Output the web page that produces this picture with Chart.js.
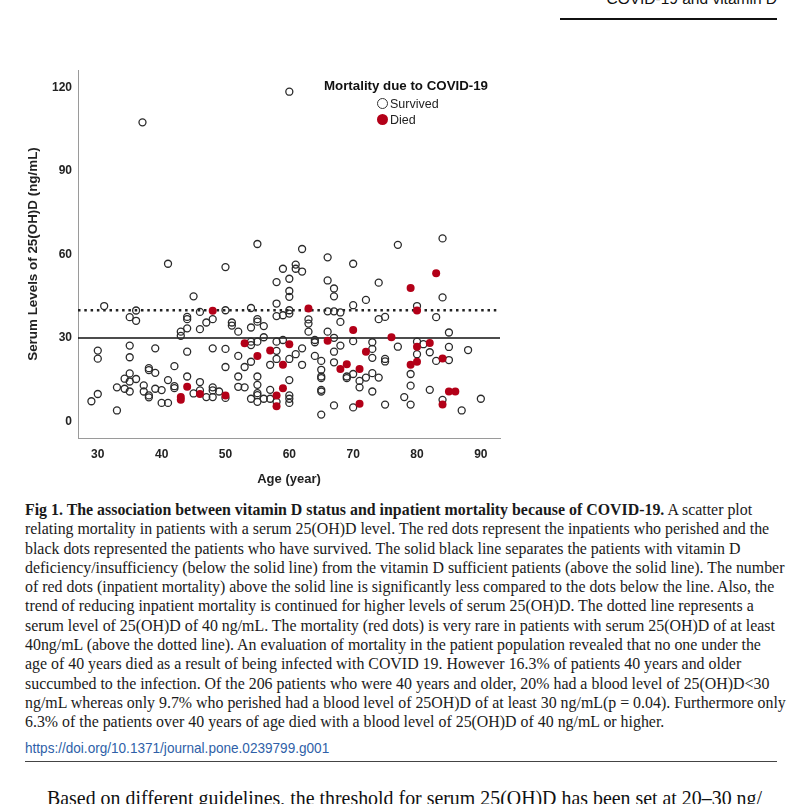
<!DOCTYPE html>
<html>
<head>
<meta charset="utf-8">
<script src="https://cdn.jsdelivr.net/npm/chart.js@4"></script>
<style>
  body { margin: 0; width: 804px; height: 804px; overflow: hidden; background: #fff; position: relative; font-family: "Liberation Sans", Arial, sans-serif; }
  #wrap { position: absolute; left: 0; top: 50px; width: 520px; height: 450px; }
  .abs { position: absolute; white-space: nowrap; }
  #caption { left: 25px; top: 500px; font: 15.9px/19.3px "Liberation Serif", "Times New Roman", serif; color: #1a1a1a; }
  #legTitle { left: 324px; top: 78px; font: bold 13.3px "Liberation Sans", Arial, sans-serif; color: #111; }
  .legItem { left: 377px; font: 12.5px "Liberation Sans", Arial, sans-serif; color: #222; }
  .dot { display: inline-block; width: 11px; height: 11px; border-radius: 50%; vertical-align: -1px; margin-right: 2px; box-sizing: border-box; }
</style>
</head>
<body>
<div class="abs" style="right:27px; top:-10px; font-size:15.5px; color:#111;">COVID-19 and vitamin D</div>
<div class="abs" style="left:560px; top:18px; width:217px; height:2px; background:#111;"></div>

<div id="wrap"><canvas id="chart" width="520" height="450"></canvas></div>

<div id="legTitle" class="abs">Mortality due to COVID-19</div>
<div class="abs legItem" style="top:97px;"><span class="dot" style="border:1.3px solid #333;"></span>Survived</div>
<div class="abs legItem" style="top:113px;"><span class="dot" style="background:#b30018;"></span>Died</div>

<div id="caption" class="abs"><b>Fig 1. The association between vitamin D status and inpatient mortality because of COVID-19.</b> A scatter plot<br>relating mortality in patients with a serum 25(OH)D level. The red dots represent the inpatients who perished and the<br>black dots represented the patients who have survived. The solid black line separates the patients with vitamin D<br>deficiency/insufficiency (below the solid line) from the vitamin D sufficient patients (above the solid line). The number<br>of red dots (inpatient mortality) above the solid line is significantly less compared to the dots below the line. Also, the<br>trend of reducing inpatient mortality is continued for higher levels of serum 25(OH)D. The dotted line represents a<br>serum level of 25(OH)D of 40 ng/mL. The mortality (red dots) is very rare in patients with serum 25(OH)D of at least<br>40ng/mL (above the dotted line). An evaluation of mortality in the patient population revealed that no one under the<br>age of 40 years died as a result of being infected with COVID 19. However 16.3% of patients 40 years and older<br>succumbed to the infection. Of the 206 patients who were 40 years and older, 20% had a blood level of 25(OH)D&lt;30<br>ng/mL whereas only 9.7% who perished had a blood level of 25OH)D of at least 30 ng/mL(p = 0.04). Furthermore only<br>6.3% of the patients over 40 years of age died with a blood level of 25(OH)D of 40 ng/mL or higher.</div>

<div class="abs" style="left:25px; top:739px; font:15px 'Liberation Sans', sans-serif; color:#2f5fa8; transform:scaleX(0.905); transform-origin:0 0;">https://doi.org/10.1371/journal.pone.0239799.g001</div>
<div class="abs" style="left:25px; top:761px; width:752px; height:1px; background:#444;"></div>
<div class="abs" style="left:47px; top:787px; font:19.9px 'Liberation Serif', 'Times New Roman', serif; color:#111;">Based on different guidelines, the threshold for serum 25(OH)D has been set at 20–30 ng/</div>

<script>
// survived patients (open circles)
var survivedAge = [
  37, 60, 55, 62, 66, 77, 84, 41, 50,
  31, 36, 35, 36, 43, 43, 35, 30, 30, 35, 39, 42, 38, 38, 39, 35, 34.2, 35, 36, 41, 33, 34.2, 35, 37.2, 37.2, 38, 38, 39, 40, 42, 42, 40, 41, 30, 29, 33,
  45, 59, 60, 58, 60, 60, 58, 44, 44, 46, 44, 46, 47, 48, 50, 51, 51, 52, 54, 55, 55, 56, 54, 56, 58, 59, 60, 60, 54, 54, 55, 52, 54, 53, 50, 48, 44, 50, 58, 59, 58, 58, 60, 57, 44, 46, 45, 46, 47, 48, 48, 48, 49, 50, 52, 52, 53, 54, 55, 55, 55, 55, 55, 56, 57, 57, 58, 60, 60, 60, 60,
  61, 61, 62, 70, 66, 67, 67, 74, 72, 70, 63, 63, 63, 66, 67, 68, 68, 66, 74, 75, 64, 64, 67, 70, 73, 73, 68, 62, 61, 67, 64, 65, 62, 67, 70, 69, 69, 65, 65, 65, 71, 71, 72, 73, 74, 75, 75, 65, 65, 73, 70, 67, 65, 75, 77, 73,
  84, 80, 83, 85, 80, 81, 85, 88, 82, 80, 83, 85, 79, 79, 82, 78, 79, 84, 87, 90
];
var survivedLevel = [
  107.5, 118.5, 63.8, 62, 59, 63.5, 65.8, 56.7, 55.5,
  41.5, 39.9, 37.5, 36.2, 32.3, 30.8, 27.3, 25.5, 22.6, 23.1, 26.3, 19.9, 19.2, 18.5, 17.5, 17.3, 15.4, 14.4, 15.3, 14.9, 12.3, 11.8, 10.8, 13, 10.8, 9.4, 8.7, 11.8, 11.3, 12.7, 12, 6.7, 6.7, 9.9, 7.3, 4,
  45, 54.9, 51.3, 50.1, 46.9, 44.8, 42.4, 37.6, 36.8, 39.4, 33.5, 33.2, 35.6, 36.8, 40, 35.6, 34.5, 32.3, 40.8, 36.8, 35.9, 34.3, 33.8, 30.3, 37.9, 38.2, 38.8, 40, 28.7, 27.5, 28.7, 23.6, 21.5, 19.6, 26.1, 26.3, 25.1, 19.6, 28.7, 29.3, 25.4, 22.5, 22.5, 20.4, 16.2, 14.2, 10.1, 11.2, 8.8, 12.3, 11.2, 8.8, 10.8, 8.5, 16.2, 12.5, 12.3, 8.2, 16.2, 13.2, 10.2, 9.5, 7.1, 8.2, 11.4, 8.2, 7.1, 9.4, 8.2, 14.9, 6.7,
  56.4, 54.9, 53.9, 56.7, 50.7, 47.8, 45, 49.9, 43.7, 41.8, 36.7, 35.2, 32.3, 39.6, 39.6, 39.2, 35.8, 32.3, 36.8, 37.6, 29.3, 28.5, 30.1, 28.9, 28.5, 26.1, 27.3, 26.3, 24.2, 25.1, 23.6, 21.8, 20.4, 21.3, 17.1, 16.2, 15.6, 18.6, 16.2, 15.6, 14.6, 12.3, 15.8, 17.4, 15.8, 22.5, 21.6, 11.4, 10.8, 10.8, 5.1, 5.8, 2.5, 6.1, 26.9, 22.9,
  44.6, 41.5, 37.5, 32, 28.7, 27.8, 26.8, 25.7, 24.9, 24.2, 21.8, 22.1, 17.1, 12.9, 11.4, 8.8, 6.1, 7.8, 4, 8.2
];

// died patients (red dots)
var diedAge = [43, 43, 44, 48, 53, 55, 57, 60, 59, 46, 50, 58, 58, 59, 63, 70, 66, 72, 68, 69, 71, 71, 76, 83, 79, 80, 82, 80, 84, 79, 80, 85, 86, 84];
var diedLevel = [8.8, 7.8, 12.5, 39.8, 28.1, 23.6, 25.5, 27.8, 20.4, 9.9, 9.4, 9.4, 5.5, 12, 40.6, 32.9, 29, 25.1, 18.9, 20.6, 18.9, 6.4, 30.3, 53.3, 48, 39.9, 28.2, 26.9, 22.7, 20.4, 21.5, 10.8, 10.8, 6.1];

var xTicks = [30, 40, 50, 60, 70, 80, 90];
var yTicks = [0, 30, 60, 90, 120];
var xMin = 26.9, xMax = 93;
var yMin = -5.9, yMax = 126.3;
var deficiencyLevel = 30;   // solid line
var sufficientLevel = 40;   // dotted line

function pts(ax, ay) {
  return ax.map(function (a, i) { return { x: a, y: ay[i] }; });
}

var red = '#b30018';
var ctx = document.getElementById('chart').getContext('2d');
Chart.defaults.font.family = '"Liberation Sans", Arial, sans-serif';

new Chart(ctx, {
  type: 'scatter',
  data: {
    datasets: [{
      label: 'Died',
      data: pts(diedAge, diedLevel),
      backgroundColor: red,
      borderColor: red,
      borderWidth: 0,
      pointRadius: 4,
      order: 0
    }, {
      label: 'Survived',
      data: pts(survivedAge, survivedLevel),
      backgroundColor: 'rgba(255,255,255,0)',
      borderColor: '#2a2a2a',
      borderWidth: 1.3,
      pointRadius: 3.5,
      order: 1
    }, {
      type: 'line',
      label: '30 ng/mL',
      data: [{ x: xMin, y: deficiencyLevel }, { x: xMax, y: deficiencyLevel }],
      borderColor: '#111',
      borderWidth: 1.6,
      pointRadius: 0,
      order: 2
    }, {
      type: 'line',
      label: '40 ng/mL',
      data: [{ x: xMin, y: sufficientLevel }, { x: xMax, y: sufficientLevel }],
      borderColor: '#222',
      borderWidth: 2.5,
      borderDash: [2.5, 3.8],
      pointRadius: 0,
      order: 3
    }]
  },
  options: {
    responsive: false,
    animation: false,
    layout: { padding: { left: 0, top: 20, right: 20, bottom: 0 } },
    plugins: { legend: { display: false }, tooltip: { enabled: false } },
    scales: {
      x: {
        type: 'linear',
        min: xMin,
        max: xMax,
        afterBuildTicks: function (s) { s.ticks = xTicks.map(function (v) { return { value: v }; }); },
        afterFit: function (s) { s.height = 62; },
        grid: { display: false, drawTicks: false },
        border: { display: true, color: '#9a9a9a', width: 1 },
        ticks: { color: '#222', padding: 9, font: { size: 12, weight: 'bold' } },
        title: { display: true, text: 'Age (year)', color: '#222', font: { size: 13, weight: 'bold' }, padding: { top: 0, bottom: 13 } }
      },
      y: {
        min: yMin,
        max: yMax,
        afterBuildTicks: function (s) { s.ticks = yTicks.map(function (v) { return { value: v }; }); },
        afterFit: function (s) { s.width = 78; },
        grid: { display: false, drawTicks: false },
        border: { display: true, color: '#9a9a9a', width: 1 },
        ticks: { color: '#222', padding: 6, font: { size: 12, weight: 'bold' } },
        title: { display: true, text: 'Serum Levels of 25(OH)D (ng/mL)', color: '#222', font: { size: 13.4, weight: 'bold' }, padding: { top: 25, bottom: 0 } }
      }
    }
  }
});
</script>
</body>
</html>
